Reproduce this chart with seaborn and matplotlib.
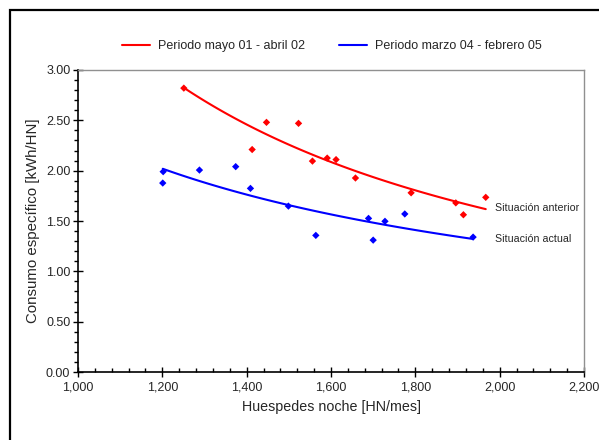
import numpy as np
import pandas as pd
import matplotlib
matplotlib.use("Agg")
import matplotlib.pyplot as plt
from matplotlib.ticker import MultipleLocator, FuncFormatter
from matplotlib.patches import Rectangle
from matplotlib.lines import Line2D
import seaborn as sns

# Data
red_label = "Periodo mayo 01 - abril 02"
blue_label = "Periodo marzo 04 - febrero 05"
red_x = [1251, 1413, 1447, 1523, 1556, 1591, 1612, 1658, 1790, 1896, 1914, 1967]
red_y = [2.82, 2.21, 2.48, 2.47, 2.095, 2.125, 2.11, 1.927, 1.78, 1.68, 1.562, 1.735]
blue_x = [1201, 1202, 1288, 1374, 1409, 1499, 1564, 1689, 1700, 1728, 1775, 1937]
blue_y = [1.877, 1.99, 2.006, 2.04, 1.824, 1.648, 1.357, 1.526, 1.31, 1.497, 1.57, 1.34]
red_note = "Situación anterior"
blue_note = "Situación actual"
xlabel = "Huespedes noche [HN/mes]"
ylabel = "Consumo específico [kWh/HN]"

sns.set_theme(style="white")
plt.rcParams['font.family'] = ['Liberation Sans', 'DejaVu Sans']

df = pd.concat([
    pd.DataFrame({"x": red_x, "y": red_y, "serie": red_label}),
    pd.DataFrame({"x": blue_x, "y": blue_y, "serie": blue_label}),
])
palette = {red_label: "#ff0000", blue_label: "#0000ff"}

fig = plt.figure(figsize=(5.99, 4.40), dpi=100)
ax = fig.add_axes([78/599, 1-372/440, (584-78)/599, (372-70)/440])

sns.scatterplot(data=df, x="x", y="y", hue="serie", palette=palette, marker="D",
                s=14, edgecolor="none", legend=False, ax=ax)

# power-law trendlines
trend_rows = []
for xs, ys, lab in [(red_x, red_y, red_label), (blue_x, blue_y, blue_label)]:
    b, lna = np.polyfit(np.log(xs), np.log(ys), 1)
    xx = np.linspace(min(xs), max(xs), 100)
    trend_rows.append(pd.DataFrame({"x": xx, "y": np.exp(lna) * xx ** b, "serie": lab}))
tdf = pd.concat(trend_rows)
sns.lineplot(data=tdf, x="x", y="y", hue="serie", palette=palette, lw=1.5,
             legend=False, ax=ax, sort=False)

ax.set_xlim(1000, 2200)
ax.set_ylim(0, 3)
ax.xaxis.set_major_locator(MultipleLocator(200))
ax.xaxis.set_minor_locator(MultipleLocator(40))
ax.yaxis.set_major_locator(MultipleLocator(0.5))
ax.yaxis.set_minor_locator(MultipleLocator(0.1))
ax.xaxis.set_major_formatter(FuncFormatter(lambda v, p: f"{v:,.0f}"))
ax.yaxis.set_major_formatter(FuncFormatter(lambda v, p: f"{v:.2f}"))
ax.tick_params(axis="x", which="major", direction="inout", length=7, width=1, color="black",
               labelsize=9, pad=3, bottom=True)
ax.tick_params(axis="x", which="minor", direction="in", length=3, width=1, color="black", bottom=True)
ax.tick_params(axis="y", which="major", direction="inout", length=7, width=1, color="black",
               labelsize=9, pad=2, left=True)
ax.tick_params(axis="y", which="minor", direction="out", length=3, width=1, color="black", left=True)

for s in ["left", "bottom"]:
    ax.spines[s].set_color("black")
    ax.spines[s].set_linewidth(1.2)
for s in ["top", "right"]:
    ax.spines[s].set_color("#909090")
    ax.spines[s].set_linewidth(1.0)

ax.set_xlabel(xlabel, fontsize=10.3, labelpad=5)
ax.set_ylabel(ylabel, fontsize=10.8, labelpad=4)

ax.text(1990, 1.63, red_note, fontsize=7.7, va="center", ha="left")
ax.text(1990, 1.32, blue_note, fontsize=7.7, va="center", ha="left")

handles = [Line2D([0], [0], color="#ff0000", lw=1.5), Line2D([0], [0], color="#0000ff", lw=1.5)]
fig.legend(handles, [red_label, blue_label], loc="center", bbox_to_anchor=(332/599, 1-46/440),
           ncol=2, frameon=False, fontsize=9, handlelength=2.25, columnspacing=2.7, handletextpad=0.65)

fig.add_artist(Rectangle((10/599, -0.05), 1.0, 1-9.5/440+0.05, transform=fig.transFigure,
                         fill=False, edgecolor="black", lw=1.6))

fig.savefig("out.png", dpi=100)
